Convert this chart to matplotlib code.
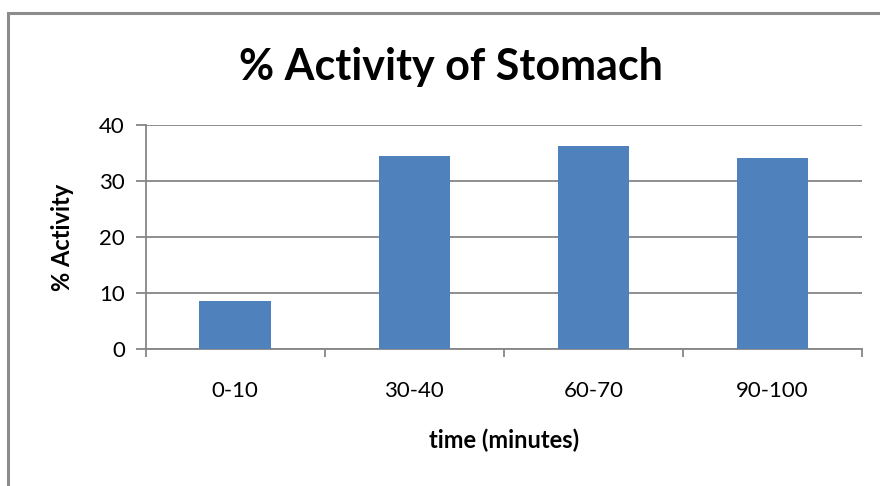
import matplotlib.pyplot as plt
from matplotlib.patches import Rectangle
import numpy as np

categories = ['0-10', '30-40', '60-70', '90-100']
activity = [8.7, 34.5, 36.2, 34.2]
yticks = [0, 10, 20, 30, 40]

plt.rcParams['font.family'] = ['Lato', 'DejaVu Sans']

fig = plt.figure(figsize=(8.8, 4.86), dpi=100)
# outer chart frame (cut off at right and bottom)
fig.patches.append(Rectangle((8 / 880, -0.1), 1.2, (486 - 13) / 486 + 0.1,
                             transform=fig.transFigure, fill=False,
                             edgecolor='#8c8c8c', linewidth=2.2))

ax = fig.add_axes([0.1656, 0.2813, 0.9795 - 0.1656, 0.7428 - 0.2813])
x = np.arange(len(categories))
ax.bar(x, activity, width=0.4, color='#4f81bd', zorder=3)

ax.set_xlim(-0.5, len(categories) - 0.5)
ax.set_ylim(0, 40)
ax.set_yticks(yticks)
ax.yaxis.grid(True, color='#868686', linewidth=1.3, zorder=0)
ax.set_xticks(x)
ax.set_xticklabels(categories)
ax.set_xticks(np.arange(len(categories) + 1) - 0.5, minor=True)
ax.tick_params(axis='x', which='major', length=0, pad=23, labelsize=16)
ax.tick_params(axis='x', which='minor', length=6, width=1.3, color='#868686')
ax.tick_params(axis='y', length=7, width=1.3, color='#868686', labelsize=16, pad=8)

for s in ['top', 'right']:
    ax.spines[s].set_visible(False)
for s in ['left', 'bottom']:
    ax.spines[s].set_color('#868686')
    ax.spines[s].set_linewidth(1.3)

ax.set_xlabel('time (minutes)', fontsize=17, fontweight='bold', labelpad=20)
ax.set_ylabel('% Activity', fontsize=17, fontweight='bold', labelpad=18)
fig.text(0.512, 0.862, '% Activity of Stomach', fontsize=31, fontweight='bold',
         ha='center', va='center')

fig.savefig('out.png', dpi=100)
